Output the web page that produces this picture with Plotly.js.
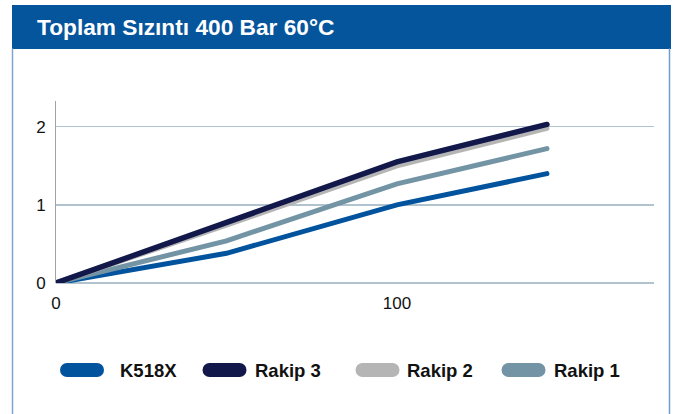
<!DOCTYPE html>
<html>
<head>
<meta charset="utf-8">
<script src="https://cdn.plot.ly/plotly-3.0.1.min.js"></script>
<style>
  html, body { margin: 0; padding: 0; background: #fff; }
  #chart { width: 685px; height: 414px; }
  .js-line, .shapelayer path { stroke-linecap: round !important; }
</style>
</head>
<body>
<div id="chart"></div>
<script>
// ---- data ----
const titleText = 'Toplam Sızıntı 400 Bar 60°C';
const xValues = [0, 50, 100, 144];
const k518x  = [0, 0.38, 1.00, 1.40];
const rakip3 = [0, 0.77, 1.55, 2.03];
const rakip2 = [0, 0.74, 1.50, 1.98];
const rakip1 = [0, 0.54, 1.27, 1.72];
const seriesNames = ['K518X', 'Rakip 3', 'Rakip 2', 'Rakip 1'];
const seriesColors = ['#01539d', '#12184a', '#b5b5b5', '#7294a5'];
const xTickVals = [0, 100];
const yTickVals = [0, 1, 2];

// ---- geometry helpers (pixels -> paper) ----
const W = 685, H = 414;
const M = { l: 56, r: 31, t: 101, b: 131 };
const PW = W - M.l - M.r, PH = H - M.t - M.b;
const px = v => (v - M.l) / PW;
const py = v => (H - M.b - v) / PH;

const seriesData = { 'K518X': k518x, 'Rakip 3': rakip3, 'Rakip 2': rakip2, 'Rakip 1': rakip1 };
const drawOrder = ['K518X', 'Rakip 1', 'Rakip 2', 'Rakip 3'];
const traces = drawOrder.map(name => ({
  type: 'scatter', mode: 'lines', name: name,
  x: xValues, y: seriesData[name],
  line: { color: seriesColors[seriesNames.indexOf(name)], width: name === 'Rakip 3' ? 5.5 : 5 },
  hoverinfo: 'skip', showlegend: false
}));

const shapes = [
  // title bar
  { type: 'rect', xref: 'paper', yref: 'paper', x0: px(12), x1: px(671), y0: py(49), y1: py(5),
    fillcolor: '#05559d', line: { width: 0 }, layer: 'below' },
  // frame sides
  { type: 'line', xref: 'paper', yref: 'paper', x0: px(12.5), x1: px(12.5), y0: py(49), y1: py(420),
    line: { color: '#7fa5cf', width: 1.5 } },
  { type: 'line', xref: 'paper', yref: 'paper', x0: px(669.5), x1: px(669.5), y0: py(49), y1: py(420),
    line: { color: '#6f9bd0', width: 1.5 } }
];
const annotations = [];
const swatchCenters = [82, 224.5, 377.5, 523.5];
const textStarts = [118, 253, 405, 552];
const legendY = 370;
seriesNames.forEach((name, i) => {
  shapes.push({ type: 'line', xref: 'paper', yref: 'paper',
    x0: px(swatchCenters[i] - 15), x1: px(swatchCenters[i] + 15), y0: py(legendY), y1: py(legendY),
    line: { color: seriesColors[i], width: 14 } });
  annotations.push({ xref: 'paper', yref: 'paper', x: px(textStarts[i]), y: py(legendY),
    xanchor: 'left', yanchor: 'middle', showarrow: false, text: name,
    font: { family: 'Liberation Sans, Arial, sans-serif', size: 18.5, color: '#111', weight: 'bold' } });
});

const layout = {
  width: W, height: H, margin: M,
  paper_bgcolor: '#ffffff', plot_bgcolor: '#ffffff',
  showlegend: false,
  title: { text: titleText, xref: 'container', yref: 'container', x: 37 / W, xanchor: 'left',
    y: 1 - 27 / H, yanchor: 'middle',
    font: { family: 'Liberation Sans, Arial, sans-serif', size: 22.7, color: '#ffffff', weight: 'bold' } },
  xaxis: { range: [0, 175.4], tickvals: xTickVals, ticktext: xTickVals.map(String),
    showgrid: false, zeroline: false, showline: false, ticks: '', ticklabelstandoff: 8,
    tickfont: { family: 'Liberation Sans, Arial, sans-serif', size: 17, color: '#111' }, fixedrange: true },
  yaxis: { range: [0, 2.33], tickvals: yTickVals, ticktext: yTickVals.map(String),
    showgrid: true, gridcolor: '#b2c3d0', gridwidth: 1.3,
    zeroline: true, zerolinecolor: '#b2c3d0', zerolinewidth: 1.3,
    showline: true, linecolor: '#a3a3a3', linewidth: 1, ticks: '', ticklabelstandoff: 6,
    tickfont: { family: 'Liberation Sans, Arial, sans-serif', size: 17, color: '#111' }, fixedrange: true },
  shapes: shapes, annotations: annotations
};

Plotly.newPlot('chart', traces, layout, { displayModeBar: false, staticPlot: true });
</script>
</body>
</html>
